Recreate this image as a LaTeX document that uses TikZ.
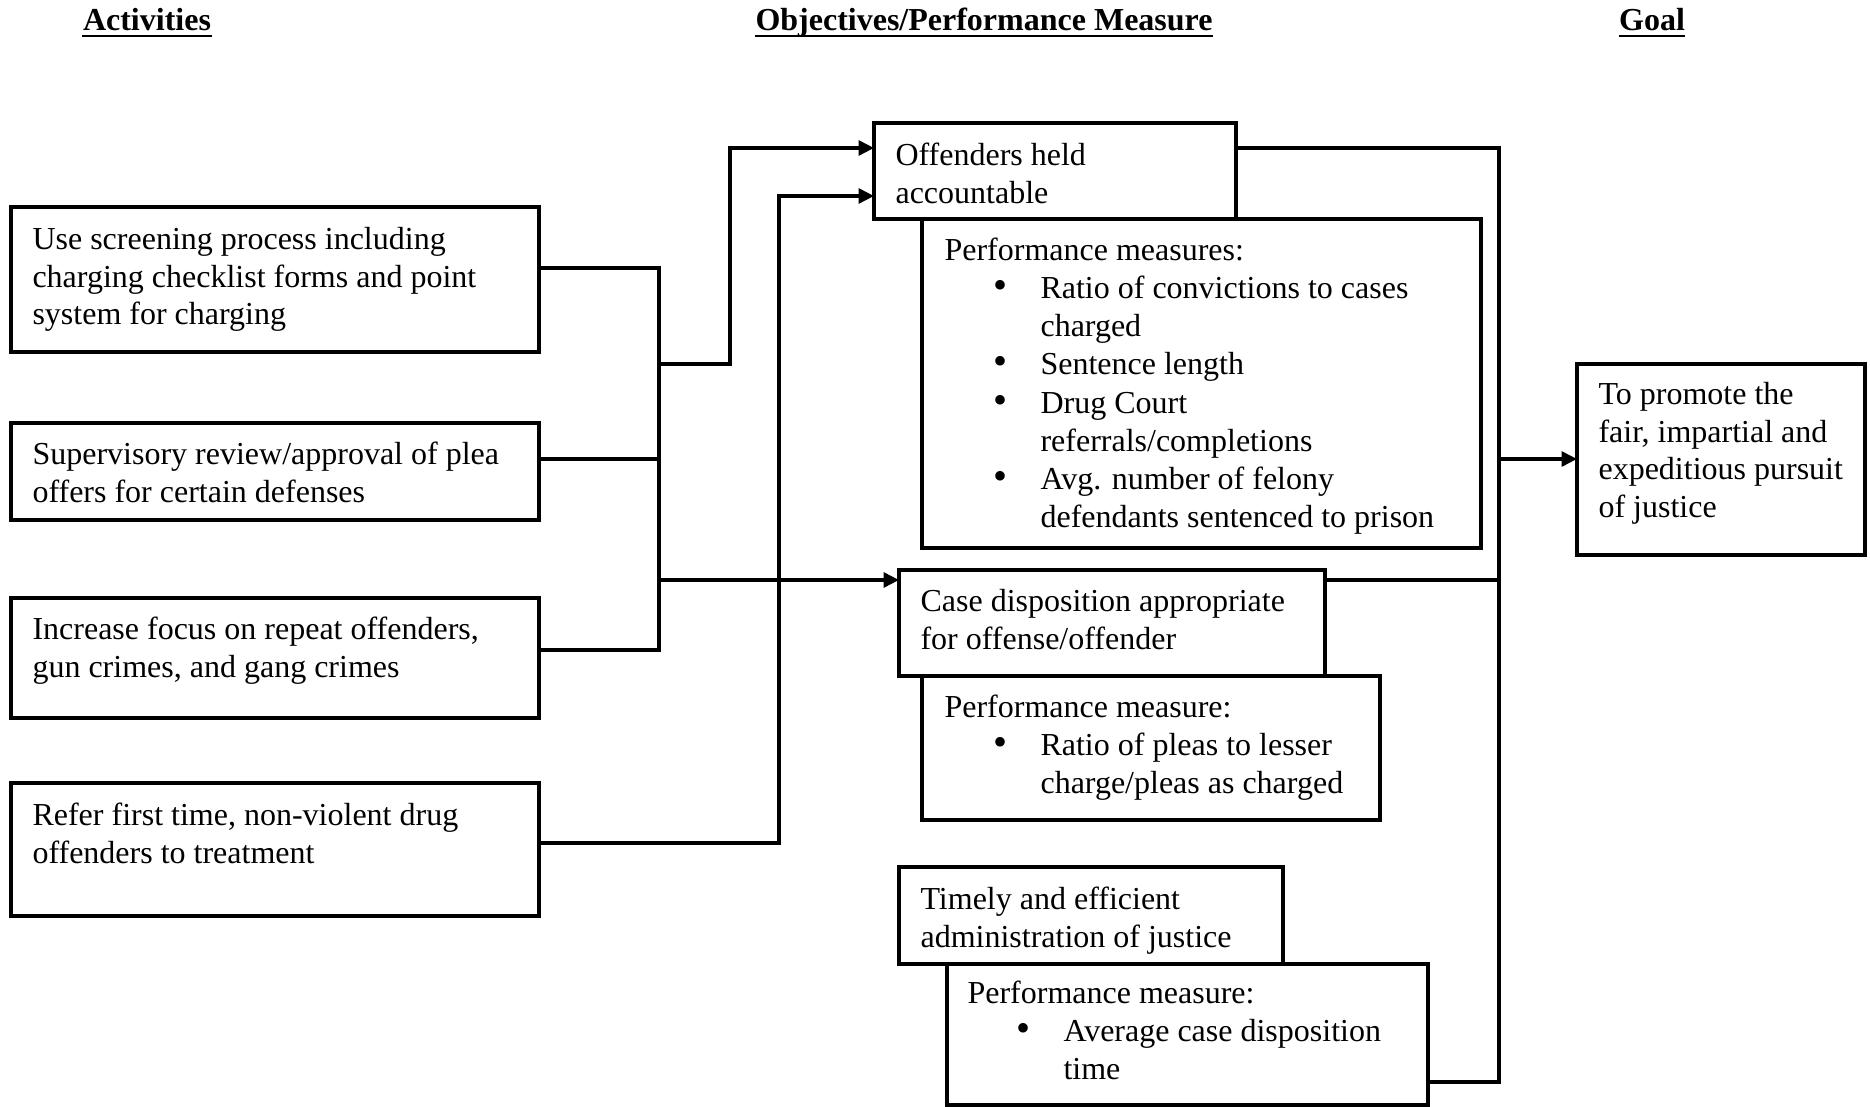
\documentclass[tikz,border=0pt]{standalone}
\usepackage{fontspec}
\setmainfont{Liberation Serif}
\usetikzlibrary{arrows.meta,calc}
\newcommand\bul{\hspace*{21pt}\makebox[0pt]{\fontsize{15pt}{14pt}\selectfont\textbullet}\hspace*{15pt}}
\newcommand\cont{\hspace*{36pt}}
\newcommand\fl{\rule{0pt}{10pt}}
\begin{document}
\begin{tikzpicture}[x=0.375pt,y=-0.375pt,
  box/.style={draw, line width=1.25pt, inner sep=0pt, outer sep=0pt, anchor=north west},
  txt/.style={anchor=north west, inner sep=0pt, align=left, font=\fontsize{12pt}{14.1pt}\selectfont},
  lst/.style={txt, font=\fontsize{12pt}{14.3pt}\selectfont},
  hdr/.style={anchor=base, inner sep=0pt, font=\fontsize{12pt}{14pt}\selectfont\bfseries},
  uline/.style={line width=0.9pt},
  conn/.style={line width=1.2pt},
  arr/.style={conn, -{Triangle[length=5.8pt,width=5.6pt]}}]
\useasboundingbox (0,0) rectangle (1870,1107);

% headers
\node[hdr] (h1) at (147,31) {Activities};
\node[hdr] (h2) at (984,31) {Objectives/Performance Measure};
\node[hdr] (h3) at (1652,31) {Goal};
\draw[uline] ($(h1.base west)+(0,5)$) -- ($(h1.base east)+(0,5)$);
\draw[uline] ($(h2.base west)+(0,5)$) -- ($(h2.base east)+(0,5)$);
\draw[uline] ($(h3.base west)+(0,5)$) -- ($(h3.base east)+(0,5)$);

% activities
\node[box, minimum width=198pt, minimum height=54.375pt] (a1) at (11,207) {};
\node[txt] (a1t) at ($(a1.north west)+(21,15.3)$) {\fl Use screening process including\\charging checklist forms and point\\system for charging};
\node[box, minimum width=198pt, minimum height=36.375pt] (a2) at (11,423) {};
\node[txt] (a2t) at ($(a2.north west)+(21,14.3)$) {\fl Supervisory review/approval of plea\\offers for certain defenses};
\node[box, minimum width=198pt, minimum height=45pt] (a3) at (11,598) {};
\node[txt] (a3t) at ($(a3.north west)+(21,14.3)$) {\fl Increase focus on repeat offenders,\\gun crimes, and gang crimes};
\node[box, minimum width=198pt, minimum height=49.875pt] (a4) at (11,783) {};
\node[txt] (a4t) at ($(a4.north west)+(21,15.3)$) {\fl Refer first time, non-violent drug\\offenders to treatment};

% objectives
\node[box, minimum width=135.75pt, minimum height=36pt] (o1) at (874,123) {};
\node[txt] (o1t) at ($(o1.north west)+(21,15.3)$) {\fl Offenders held\\accountable};
\node[box, minimum width=209.625pt, minimum height=123.375pt] (p1) at (922,219) {};
\node[lst] (p1t) at ($(p1.north west)+(22,14.3)$) {\fl Performance measures:\\
\bul Ratio of convictions to cases\\
\cont charged\\
\bul Sentence length\\
\bul Drug Court\\
\cont referrals/completions\\
\bul Avg. number of felony\\
\cont defendants sentenced to prison};

\node[box, minimum width=159.75pt, minimum height=39.75pt] (o2) at (899,570) {};
\node[txt] (o2t) at ($(o2.north west)+(21,14.3)$) {\fl Case disposition appropriate\\for offense/offender};
\node[box, minimum width=171.75pt, minimum height=54pt] (p2) at (922,676) {};
\node[lst] (p2t) at ($(p2.north west)+(22,14.3)$) {\fl Performance measure:\\
\bul Ratio of pleas to lesser\\
\cont charge/pleas as charged};

\node[box, minimum width=144pt, minimum height=36.375pt] (o3) at (899,867) {};
\node[txt] (o3t) at ($(o3.north west)+(21,15.3)$) {\fl Timely and efficient\\administration of justice};
\node[box, minimum width=180.375pt, minimum height=52.875pt] (p3) at (947,964) {};
\node[lst] (p3t) at ($(p3.north west)+(20,12.3)$) {\fl Performance measure:\\
\bul Average case disposition\\
\cont time};

% goal
\node[box, minimum width=108pt, minimum height=71.625pt] (goal) at (1577,364) {};
\node[txt] (goalt) at ($(goal.north west)+(21,13.3)$) {\fl To promote the\\fair, impartial and\\expeditious pursuit\\of justice};

% connector points
\coordinate (j1) at (659,268);
\coordinate (j2) at (659,459);
\coordinate (j3) at (659,650);
\coordinate (jb) at (659,364);
\coordinate (jc) at (659,580);
\coordinate (k1) at (730,148);
\coordinate (k2) at (779,196);
\coordinate (k2b) at (779,843);
\coordinate (r1) at (1499,148);
\coordinate (r2) at (1499,1082);
\coordinate (rg) at (1499,459);

\draw[conn] (a1.east |- j1) -- (j1) -- (j3) -- (a3.east |- j3);
\draw[conn] (a2.east |- j2) -- (j2);
\draw[arr] (jb) -| (k1) -- (o1.west |- k1);
\draw[arr] (jc) -- (o2.west |- jc);
\draw[arr] (a4.east |- k2b) -| (k2) -- (o1.west |- k2);
\draw[conn] (o1.east |- r1) -- (r1) -- (r2) -- (p3.east |- r2);
\draw[conn] (o2.east |- jc) -- (r1 |- jc);
\draw[arr] (rg) -- (goal.west |- rg);
\end{tikzpicture}
\end{document}
